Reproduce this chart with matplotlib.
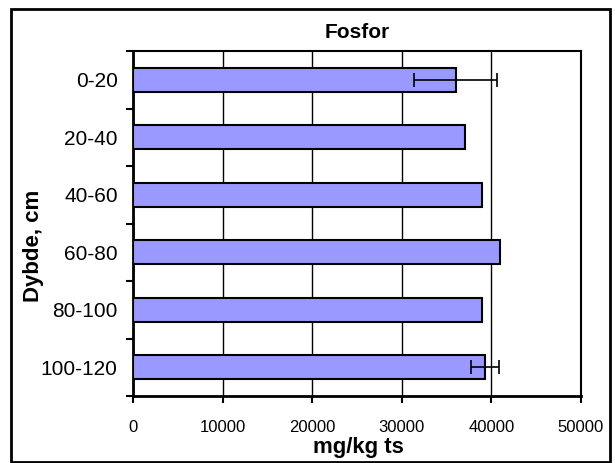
import matplotlib
matplotlib.use("Agg")
import matplotlib.pyplot as plt
import numpy as np
from matplotlib.patches import Rectangle

categories = ["0-20", "20-40", "40-60", "60-80", "80-100", "100-120"]
values = [36000, 37000, 39000, 41000, 39000, 39300]
errors = [4600, 0, 0, 0, 0, 1600]
xticks = [0, 10000, 20000, 30000, 40000, 50000]

plt.rcParams['font.family'] = ['Liberation Sans', 'DejaVu Sans']

fig = plt.figure(figsize=(6.15, 4.63), dpi=100)
ax = fig.add_axes([133/615, 1-396/463, (581-133)/615, (396-51)/463])

y = np.arange(len(categories))
ax.barh(y, values, height=0.42, color='#9999FF', edgecolor='black', linewidth=1.5, zorder=3)
err_idx = [i for i, e in enumerate(errors) if e > 0]
ax.errorbar([values[i] for i in err_idx], [y[i] for i in err_idx],
            xerr=[errors[i] for i in err_idx], fmt='none', ecolor='black',
            elinewidth=1.2, capsize=4.7, capthick=1.2, zorder=4)

ax.set_xlim(0, 50000)
ax.set_ylim(len(categories)-0.5, -0.5)
ax.set_xticks(xticks)
ax.set_xticklabels([str(v) for v in xticks], fontsize=12)
ax.set_yticks(y)
ax.set_yticklabels(categories, fontsize=15)
ax.set_yticks(np.arange(-0.5, len(categories), 1), minor=True)
ax.tick_params(axis='y', which='major', length=0, pad=11)
ax.tick_params(axis='y', which='minor', length=5, width=1.5, direction='out')
ax.tick_params(axis='x', which='major', length=5, width=1.5, direction='out', pad=12)
ax.grid(axis='x', color='black', linewidth=1, zorder=0)
ax.set_axisbelow(True)
for s in ax.spines.values():
    s.set_linewidth(1.5)
ax.spines['left'].set_linewidth(2)
ax.spines['bottom'].set_linewidth(2)

fig.text(357/615, 1-33/463, "Fosfor", ha='center', va='center', fontsize=15, fontweight='bold')
fig.text(358/615, 1-447/463, "mg/kg ts", ha='center', va='center', fontsize=16, fontweight='bold')
fig.text(33/615, 1-246/463, "Dybde, cm", ha='center', va='center', rotation=90, fontsize=16, fontweight='bold')

fig.patches.append(Rectangle((11/615, 0.003), (610-11)/615, (463-9.5)/463 - 0.003,
                             transform=fig.transFigure, fill=False, edgecolor='black', linewidth=2))

fig.savefig("out.png", dpi=100)
